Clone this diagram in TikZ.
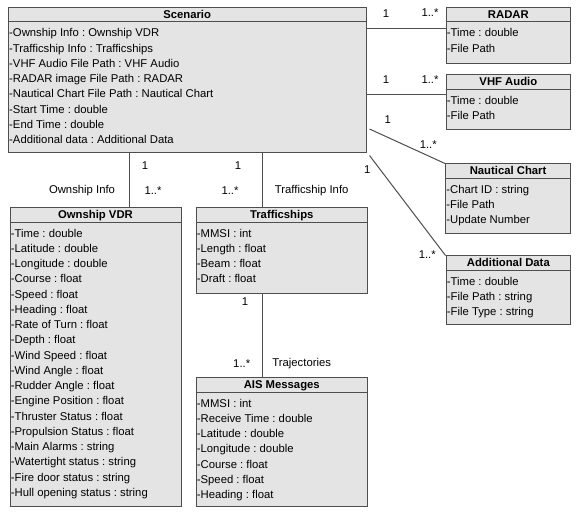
\documentclass[tikz,border=0pt]{standalone}
\usepackage{fontspec}
\setmainfont{Liberation Sans}
\usetikzlibrary{fit,calc}
\frenchspacing
\definecolor{classfill}{RGB}{228,228,228}
\definecolor{classdraw}{RGB}{78,78,78}
\tikzset{
  classbox/.style={draw=classdraw,fill=classfill,line width=1pt,inner sep=0pt},
  classtitle/.style={font=\fontsize{11.3}{13}\selectfont\bfseries,inner sep=0pt},
  classattr/.style={font=\fontsize{11.3}{13}\selectfont,inner sep=0pt},
  assoc/.style={draw=classdraw,line width=1pt},
  mult/.style={font=\fontsize{11.3}{13}\selectfont,inner sep=0pt},
}
% name, left, top, right, bottom, title, attributes
\newcommand\umlclass[7]{%
  \node[classbox,fit={(#2,#3) (#4,#5)}] (#1) {};
  \draw[classbox] ([yshift=-15pt]#1.north west) -- ([yshift=-15pt]#1.north east);
  \node[classtitle,anchor=base] (#1-title) at ([yshift=-11.5pt]#1.north) {#6};
  \foreach \a [count=\i] in {#7}
    \node[classattr,anchor=base west] (#1-attr\i) at ([xshift=1.2pt,yshift={-(14.75+15.25*\i)*1pt}]#1.north west) {\a};
}
\begin{document}
\begin{tikzpicture}[x=1pt,y=-1pt]
\useasboundingbox (0,0) rectangle (581,518);

\umlclass{scenario}{8.3}{7.3}{366}{152.7}{Scenario}{-Ownship Info : Ownship VDR,-Trafficship Info : Trafficships,-VHF Audio File Path : VHF Audio,-RADAR image File Path : RADAR,-Nautical Chart File Path : Nautical Chart,-Start Time : double,-End Time : double,-Additional data : Additional Data}
\umlclass{radar}{446}{7.3}{570.7}{63.3}{RADAR}{-Time : double,-File Path}
\umlclass{vhf}{446}{75}{570.7}{129.3}{VHF Audio}{-Time : double,-File Path}
\umlclass{chart}{445.5}{164}{570.7}{233.3}{Nautical Chart}{-Chart ID : string,-File Path,-Update Number}
\umlclass{extra}{446}{256}{570.7}{325}{Additional Data}{-Time : double,-File Path : string,-File Type : string}
\umlclass{ownship}{10}{207.7}{181}{506}{Ownship VDR}{-Time : double,-Latitude : double,-Longitude : double,-Course : float,-Speed : float,-Heading : float,-Rate of Turn : float,-Depth : float,-Wind Speed : float,-Wind Angle : float,-Rudder Angle : float,-Engine Position : float,-Thruster Status : float,-Propulsion Status : float,-Main Alarms : string,-Watertight status : string,-Fire door status : string,-Hull opening status : string}
\umlclass{traffic}{196}{207.7}{367.5}{294}{Trafficships}{-MMSI : int,-Length : float,-Beam : float,-Draft : float}
\umlclass{ais}{196}{377.7}{367.5}{506}{AIS Messages}{-MMSI : int,-Receive Time : double,-Latitude : double,-Longitude : double,-Course : float,-Speed : float,-Heading : float}

% associations
\draw[assoc] (129.3,0 |- scenario.south) -- (129.3,0 |- ownship.north);
\draw[assoc] (262.7,0 |- scenario.south) -- (262.7,0 |- traffic.north);
\draw[assoc] (262.7,0 |- traffic.south) -- (262.7,0 |- ais.north);
\draw[assoc] (scenario.east |- 0,28.3) -- (radar.west |- 0,28.3);
\draw[assoc] (scenario.east |- 0,95) -- (vhf.west |- 0,95);
\draw[assoc] ($(scenario.east |- 0,129)+(3,0)$) -- (chart.north west);
\draw[assoc] ($(scenario.south east)+(3,2.3)$) -- (extra.north west);

% multiplicities and role names
\node[mult] (own-one) at (145,165.7) {1};
\node[mult] (own-many) at (153,191) {1..*};
\node[mult] (own-role) at (82,190.7) {Ownship Info};
\node[mult] (traffic-one) at (238,166) {1};
\node[mult] (traffic-many) at (230,191) {1..*};
\node[mult] (traffic-role) at (311.7,191) {Trafficship Info};
\node[mult] (ais-one) at (245,301.7) {1};
\node[mult] (ais-many) at (241.7,363.3) {1..*};
\node[mult] (ais-role) at (301.7,364) {Trajectories};
\node[mult] (radar-one) at (386,13.3) {1};
\node[mult] (radar-many) at (430,13) {1..*};
\node[mult] (vhf-one) at (386,80) {1};
\node[mult] (vhf-many) at (430,80) {1..*};
\node[mult] (chart-one) at (387.7,120) {1};
\node[mult] (chart-many) at (428.3,145) {1..*};
\node[mult] (extra-one) at (367.3,169.3) {1};
\node[mult] (extra-many) at (427.3,255) {1..*};
\end{tikzpicture}
\end{document}
